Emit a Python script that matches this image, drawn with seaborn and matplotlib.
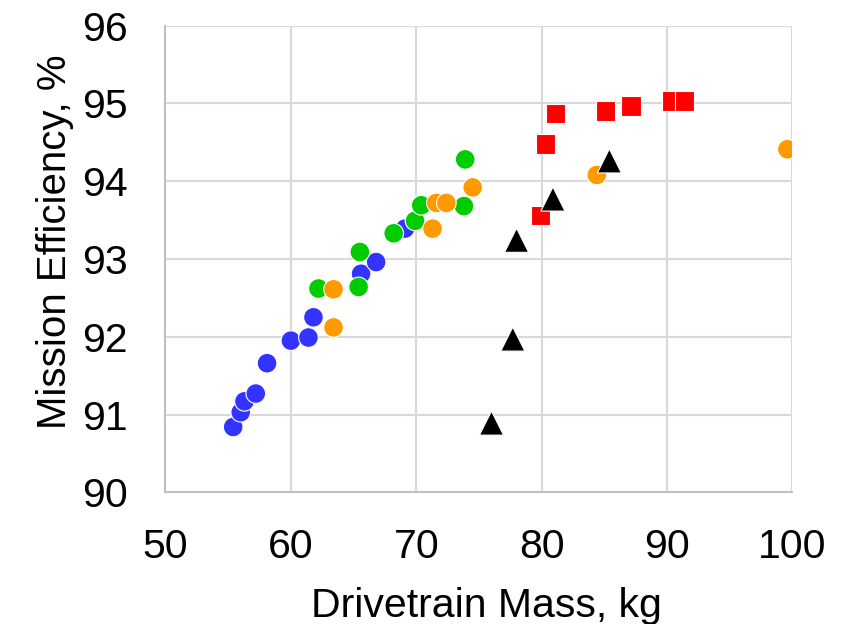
import numpy as np
import pandas as pd
import seaborn as sns
import matplotlib.pyplot as plt

# drivetrain mass (kg) / mission efficiency (%) per design family
blue_x = [55.4, 56.0, 56.3, 57.2, 58.1, 60.0, 61.4, 61.8, 65.6, 66.8, 69.1]
blue_y = [90.84, 91.03, 91.17, 91.27, 91.66, 91.95, 91.99, 92.25, 92.81, 92.96, 93.39]

green_x = [62.2, 65.4, 65.5, 68.2, 69.9, 70.4, 73.8, 73.9]
green_y = [92.62, 92.64, 93.09, 93.33, 93.49, 93.69, 93.68, 94.28]

orange_x = [63.4, 63.4, 71.3, 71.6, 72.4, 74.5, 84.4, 99.6]
orange_y = [92.61, 92.12, 93.39, 93.72, 93.72, 93.92, 94.08, 94.41]

red_x = [79.9, 80.3, 81.1, 85.1, 87.1, 90.4, 91.4]
red_y = [93.56, 94.48, 94.87, 94.90, 94.97, 95.03, 95.03]

black_x = [76.0, 77.7, 78.0, 80.9, 85.4]
black_y = [90.89, 91.97, 93.24, 93.77, 94.26]

groups = {
    "blue": (blue_x, blue_y),
    "green": (green_x, green_y),
    "orange": (orange_x, orange_y),
    "red": (red_x, red_y),
    "black": (black_x, black_y),
}
colors = {"blue": "#3333ff", "green": "#00cc00", "orange": "#ff9900",
          "red": "#ff0000", "black": "#000000"}
shapes = {"blue": "o", "green": "o", "orange": "o", "red": "s", "black": "^"}
areas = {"blue": 200, "green": 200, "orange": 200, "red": 200, "black": 300}

df = pd.concat([pd.DataFrame({"mass": x, "eff": y, "grp": g})
                for g, (x, y) in groups.items()], ignore_index=True)

sns.set_style("white")
plt.rcParams['font.family'] = ['Liberation Sans', 'DejaVu Sans']
plt.rcParams['text.color'] = 'black'
plt.rcParams['axes.labelcolor'] = 'black'
plt.rcParams['xtick.color'] = 'black'
plt.rcParams['ytick.color'] = 'black'

fig, ax = plt.subplots(figsize=(8.53, 6.24), dpi=100)
fig.subplots_adjust(left=0.194, right=0.929, top=0.959, bottom=0.211)

sns.scatterplot(data=df, x="mass", y="eff", hue="grp", style="grp", size="grp",
                palette=colors, markers=shapes, sizes=areas,
                edgecolor="white", linewidth=0.8, legend=False, ax=ax, zorder=3)

ax.set_xlim(50, 100)
ax.set_ylim(90, 96)
ax.set_xticks(np.arange(50, 101, 10))
ax.set_yticks(np.arange(90, 97, 1))
ax.grid(True, color="#d9d9d9", linewidth=1.5)
ax.set_axisbelow(True)
for side in ["top", "right"]:
    ax.spines[side].set_visible(False)
for side in ["left", "bottom"]:
    ax.spines[side].set_color("#bfbfbf")
    ax.spines[side].set_linewidth(1.5)

ax.tick_params(axis="x", length=0, pad=26, labelsize=29.5)
ax.tick_params(axis="y", length=0, pad=27, labelsize=29.5)
ax.set_xlabel("Drivetrain Mass, kg", fontsize=29.5, labelpad=15)
ax.set_ylabel("Mission Efficiency, %", fontsize=29, labelpad=6)
ax.xaxis.label.set_x(0.512)
ax.yaxis.label.set_y(0.536)

fig.savefig("out.png", dpi=100)
